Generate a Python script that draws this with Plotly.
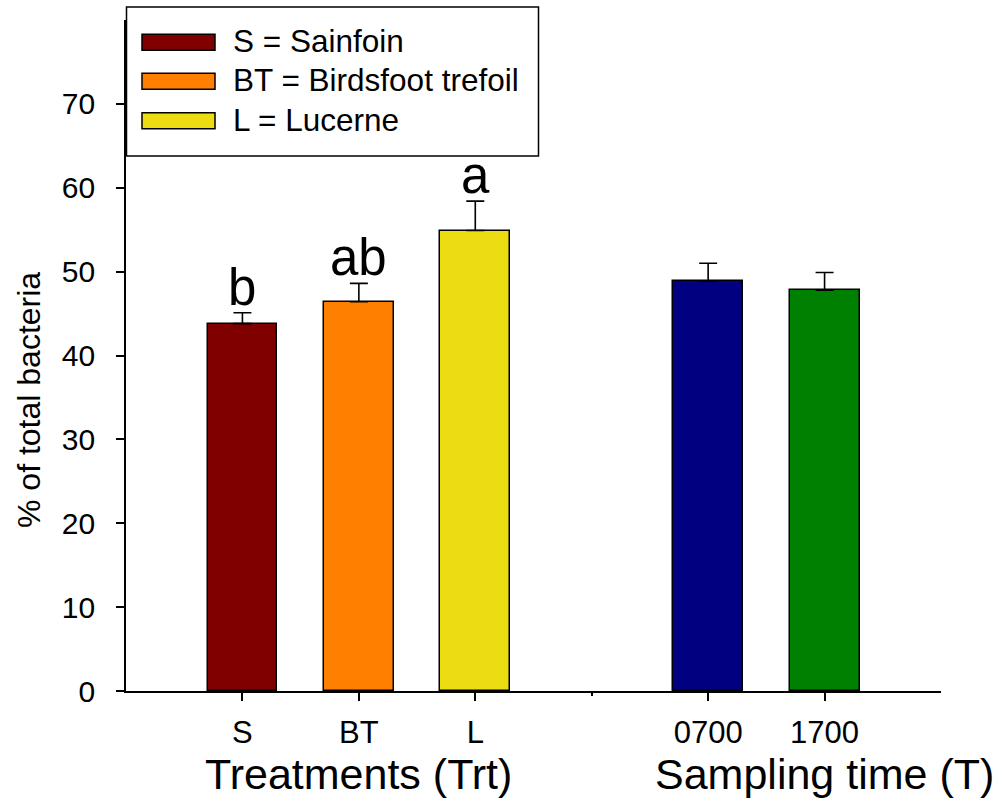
import plotly.graph_objects as go

# ---- data ----
trt_labels = ["S", "BT", "L"]
trt_values = [43.8, 46.4, 54.9]
trt_errors = [1.3, 2.2, 3.5]
trt_colors = ["#800000", "#FF8000", "#ECDC12"]
trt_letters = ["b", "ab", "a"]
legend_names = ["S = Sainfoin", "BT = Birdsfoot trefoil", "L = Lucerne"]

time_labels = ["0700", "1700"]
time_values = [48.9, 47.8]
time_errors = [2.1, 2.1]
time_colors = ["#000080", "#008000"]

y_ticks = [0, 10, 20, 30, 40, 50, 60, 70]
group_titles = ["Treatments (Trt)", "Sampling time (T)"]

# ---- positions (slots along x) ----
trt_pos = [i + 1 for i in range(len(trt_labels))]
time_pos = [len(trt_labels) + 2 + i for i in range(len(time_labels))]
gap_pos = len(trt_labels) + 1
x_max = time_pos[-1] + 1

W, H = 995, 798
ML, MR, MT, MB = 126, 54, 20, 107
PW, PH = W - ML - MR, H - MT - MB


def pxx(p):
    return (p - ML) / PW


def pxy(p):
    return (H - MB - p) / PH


FONT = "Arial, Liberation Sans, sans-serif"
bar_line = dict(color="black", width=1.5)
err_style = dict(type="data", symmetric=False, thickness=1.6, width=9, color="black")

fig = go.Figure()
fig.add_trace(go.Bar(
    x=trt_pos, y=trt_values, width=0.6,
    marker=dict(color=trt_colors, line=bar_line),
    error_y=dict(array=trt_errors, arrayminus=[0] * len(trt_errors), **err_style),
    showlegend=False, name="Treatments",
))
fig.add_trace(go.Bar(
    x=time_pos, y=time_values, width=0.6,
    marker=dict(color=time_colors, line=bar_line),
    error_y=dict(array=time_errors, arrayminus=[0] * len(time_errors), **err_style),
    showlegend=False, name="Sampling time",
))

annotations = []
# significance letters
for xp, v, e, t in zip(trt_pos, trt_values, trt_errors, trt_letters):
    annotations.append(dict(x=xp, y=v + e, xref="x", yref="y", text=t, showarrow=False,
                            yanchor="bottom", yshift=-5, font=dict(size=51, color="black", family=FONT)))

# group titles
annotations.append(dict(x=sum(trt_pos) / len(trt_pos), y=pxy(774), xref="x", yref="paper",
                        text=group_titles[0], showarrow=False, yanchor="middle",
                        font=dict(size=43, color="black", family=FONT)))
annotations.append(dict(x=time_pos[-1], y=pxy(774), xref="x", yref="paper",
                        text=group_titles[1], showarrow=False, yanchor="middle",
                        font=dict(size=43, color="black", family=FONT)))
# y axis title
annotations.append(dict(x=pxx(29), y=pxy(400), xref="paper", yref="paper",
                        text="% of total bacteria", textangle=-90, showarrow=False,
                        xanchor="center", yanchor="middle",
                        font=dict(size=32, color="black", family=FONT)))

# custom legend
shapes = [dict(type="rect", xref="paper", yref="paper",
               x0=pxx(126.5), x1=pxx(538.5), y0=pxy(156), y1=pxy(7),
               line=dict(color="black", width=1.5), fillcolor="white", layer="above")]
row_centers = [42.2, 81.3, 120.7]
for yc, col, name in zip(row_centers, trt_colors, legend_names):
    shapes.append(dict(type="rect", xref="paper", yref="paper",
                       x0=pxx(142), x1=pxx(215), y0=pxy(yc + 8), y1=pxy(yc - 8),
                       line=dict(color="black", width=1.5), fillcolor=col, layer="above"))
    annotations.append(dict(x=pxx(231), y=pxy(yc - 1), xref="paper", yref="paper",
                            text=name, showarrow=False, xanchor="left", yanchor="middle",
                            font=dict(size=31.5, color="black", family=FONT)))

fig.update_layout(
    width=W, height=H,
    margin=dict(l=ML, r=MR, t=MT, b=MB, pad=0),
    paper_bgcolor="white", plot_bgcolor="white",
    font=dict(family=FONT, color="black"),
    bargap=0,
    annotations=annotations,
    shapes=shapes,
    showlegend=False,
)
fig.update_xaxes(
    range=[0, x_max], showgrid=False, zeroline=False,
    showline=True, linecolor="black", linewidth=1.8,
    tickmode="array", tickvals=trt_pos + time_pos, ticktext=trt_labels + time_labels,
    ticks="outside", ticklen=8, tickwidth=1.5, tickcolor="black",
    tickfont=dict(size=31, color="black", family=FONT),
    ticklabelstandoff=5,
    minor=dict(tickmode="array", tickvals=[gap_pos], ticks="outside", ticklen=3,
               tickwidth=1.5, tickcolor="black"),
)
fig.update_yaxes(
    range=[0, 80], showgrid=False, zeroline=False,
    showline=True, linecolor="black", linewidth=1.8,
    tickmode="array", tickvals=y_ticks,
    ticks="outside", ticklen=8, tickwidth=1.5, tickcolor="black",
    tickfont=dict(size=30, color="black", family=FONT),
    ticklabelstandoff=15,
)

fig.write_html("out.html")
